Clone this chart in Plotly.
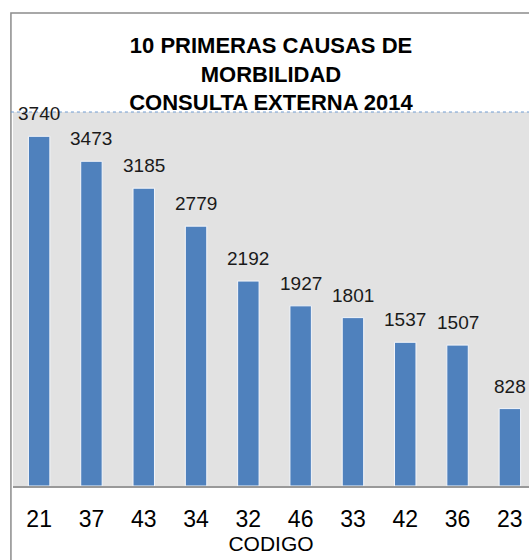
import plotly.graph_objects as go

codes = ["21", "37", "43", "34", "32", "46", "33", "42", "36", "23"]
values = [3740, 3473, 3185, 2779, 2192, 1927, 1801, 1537, 1507, 828]
title_lines = ["10 PRIMERAS CAUSAS DE", "MORBILIDAD", "CONSULTA EXTERNA 2014"]
x_title = "CODIGO"

narrow = "Liberation Sans Narrow, Arial Narrow, Liberation Sans, Arial, sans-serif"
regular = "Liberation Sans, Arial, sans-serif"

fig = go.Figure()
fig.add_trace(go.Bar(
    x=codes, y=values,
    marker=dict(color="#4f81bd", line=dict(color="#f4f6fa", width=1)),
    hoverinfo="x+y",
))

# value labels above each bar (x given as category index)
for i, v in enumerate(values):
    fig.add_annotation(x=i, y=v, xref="x", yref="y", text=str(v), showarrow=False,
                       yanchor="bottom", yshift=10,
                       font=dict(family=narrow, size=19, color="#1a1a1a"))

# outer chart border (clipped by the window on the right and bottom)
fig.add_shape(type="rect", xref="paper", yref="paper", x0=-0.004, x1=1.3, y0=-0.6, y1=1.265,
              line=dict(color="#8c8c8c", width=1.5), fillcolor="rgba(0,0,0,0)", layer="below")
# dotted top line of the plot area
fig.add_shape(type="line", xref="paper", yref="paper", x0=-0.004, x1=1.3, y0=1, y1=1,
              line=dict(color="#6f9bd1", width=1, dash="dot"))

fig.update_layout(
    width=529, height=560,
    margin=dict(l=13, r=0, t=112, b=74),
    paper_bgcolor="white",
    plot_bgcolor="#e2e2e2",
    showlegend=False,
    bargap=0.59,
    title=dict(text="<br>".join(title_lines), x=0.5, xref="paper", xanchor="center",
               y=1 - 53 / 560, yanchor="middle",
               font=dict(family=regular, size=22, color="#000000", weight="bold")),
    xaxis=dict(type="category", range=[-0.5, 9.366], showline=True, linecolor="#999999",
               linewidth=1.5, ticks="outside", ticklen=12, tickcolor="rgba(0,0,0,0)",
               tickfont=dict(family=narrow, size=23, color="#000000"),
               title=dict(text=x_title, standoff=0,
                          font=dict(family=narrow, size=21, color="#000000")),
               showgrid=False, zeroline=False),
    yaxis=dict(range=[0, 4000], visible=False, showgrid=False, zeroline=False),
)

fig.write_html("out.html", config={"displayModeBar": False},
               post_script="document.body.style.margin='0';document.body.style.overflow='hidden';")
